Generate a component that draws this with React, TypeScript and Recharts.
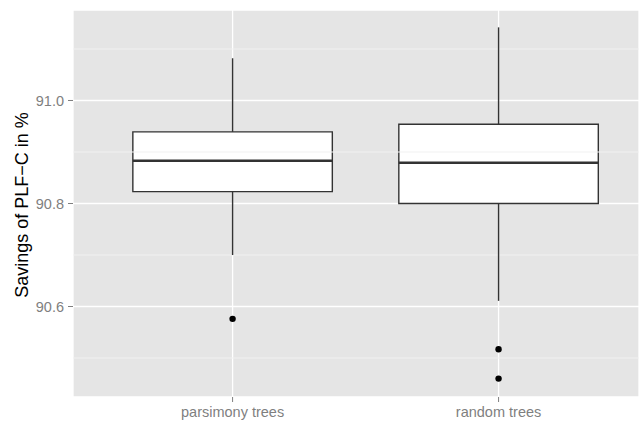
import {
  ComposedChart,
  XAxis,
  YAxis,
  CartesianGrid,
  ReferenceArea,
  ReferenceLine,
  Scatter,
} from "recharts";

const categories = ["parsimony trees", "random trees"];
const lowerWhisker = [90.7, 90.611];
const lowerHinge = [90.823, 90.8];
const medians = [90.883, 90.879];
const upperHinge = [90.939, 90.954];
const upperWhisker = [91.082, 91.142];
const outlierValues = [[90.576], [90.517, 90.46]];

const yTicks = [90.6, 90.8, 91.0];
const yMinorTicks = [90.5, 90.7, 90.9, 91.1];

const positions = categories.map((_, i) => i + 1);
const outliers = outlierValues.flatMap((vals, i) =>
  vals.map((v) => ({ x: positions[i], y: v }))
);

const HALF = 0.375;
const FONT = "'Liberation Sans', Arial, Helvetica, sans-serif";

export default function App() {
  return (
    <div style={{ position: "absolute", left: 0, top: 0 }}>
      <ComposedChart
        width={639}
        height={423}
        margin={{ top: 10, right: 0, bottom: 0, left: 0 }}
        style={{ fontFamily: FONT }}
      >
        <CartesianGrid
          fill="#E5E5E5"
          stroke="#FFFFFF"
          strokeWidth={1.3}
          fillOpacity={1}
        />
        {yMinorTicks.map((v) => (
          <ReferenceLine key={v} y={v} stroke="#F2F2F2" strokeWidth={1.2} />
        ))}
        <XAxis
          type="number"
          dataKey="x"
          domain={[0.4, 2.528]}
          ticks={positions}
          allowDataOverflow
          tickFormatter={(v: number) => categories[v - 1]}
          axisLine={false}
          tickLine={{ stroke: "#7F7F7F" }}
          tickSize={5}
          tickMargin={5}
          height={26}
          tick={{ fill: "#7F7F7F", fontSize: 14.5 }}
        />
        <YAxis
          type="number"
          dataKey="y"
          domain={[90.4243, 91.1757]}
          ticks={yTicks}
          allowDataOverflow
          tickFormatter={(v: number) => v.toFixed(1)}
          axisLine={false}
          tickLine={{ stroke: "#7F7F7F" }}
          tickSize={5}
          tickMargin={4}
          width={73}
          tick={{ fill: "#7F7F7F", fontSize: 14.5 }}
          label={{
            content: () => (
              <text
                x={28}
                y={205}
                transform="rotate(-90 28 205)"
                textAnchor="middle"
                fontSize={18}
                fill="#000"
              >
                Savings of PLF−C in %
              </text>
            ),
          }}
        />
        {positions.map((p, i) => (
          <ReferenceLine
            key={`wu-${p}`}
            segment={[
              { x: p, y: upperHinge[i] },
              { x: p, y: upperWhisker[i] },
            ]}
            stroke="#333333"
            strokeWidth={1.4}
          />
        ))}
        {positions.map((p, i) => (
          <ReferenceLine
            key={`wl-${p}`}
            segment={[
              { x: p, y: lowerWhisker[i] },
              { x: p, y: lowerHinge[i] },
            ]}
            stroke="#333333"
            strokeWidth={1.4}
          />
        ))}
        {positions.map((p, i) => (
          <ReferenceArea
            key={`box-${p}`}
            x1={p - HALF}
            x2={p + HALF}
            y1={lowerHinge[i]}
            y2={upperHinge[i]}
            fill="#FFFFFF"
            fillOpacity={1}
            stroke="#333333"
            strokeWidth={1.4}
          />
        ))}
        {positions.map((p, i) => (
          <ReferenceLine
            key={`med-${p}`}
            segment={[
              { x: p - HALF, y: medians[i] },
              { x: p + HALF, y: medians[i] },
            ]}
            stroke="#333333"
            strokeWidth={2.6}
          />
        ))}
        <Scatter
          data={outliers}
          dataKey="y"
          isAnimationActive={false}
          shape={(props: any) => (
            <circle cx={props.cx} cy={props.cy} r={3.2} fill="#000" />
          )}
        />
      </ComposedChart>
    </div>
  );
}
